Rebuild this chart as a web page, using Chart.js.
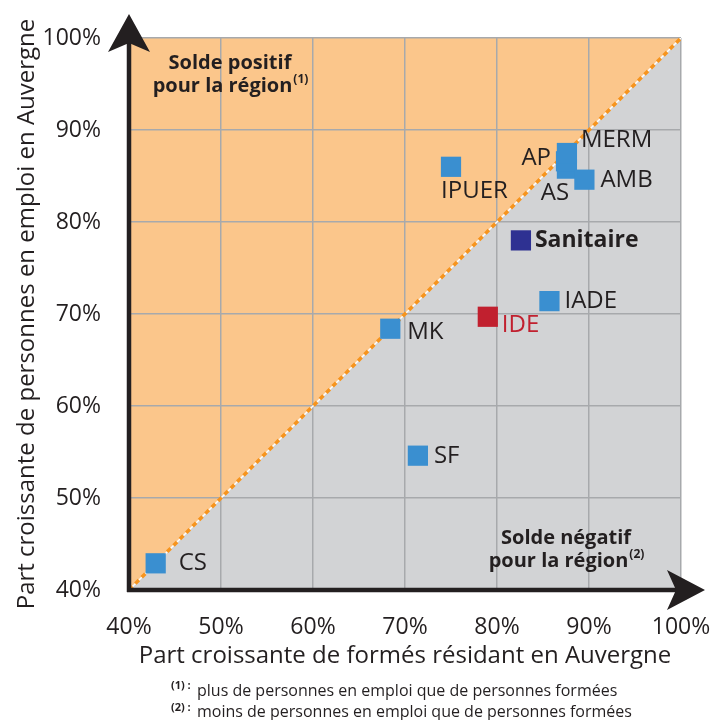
<!DOCTYPE html>
<html><head><meta charset="utf-8">
<script src="https://cdn.jsdelivr.net/npm/chart.js@4/dist/chart.umd.min.js"></script>
<style>html,body{margin:0;padding:0;background:#fff}#c{display:block}</style>
</head><body>
<canvas id="c" width="711" height="720"></canvas>
<script>
// ---- data ----
const categories = ['CS','MK','SF','IDE','IPUER','Sanitaire','IADE','AS','AP','MERM','AMB'];
const formesResidants = [42.9, 68.4, 71.4, 79.0, 75.0, 82.6, 85.7, 87.6, 87.5, 87.6, 89.5];
const emploiAuvergne  = [42.9, 68.4, 54.6, 69.7, 86.0, 78.0, 71.4, 85.8, 86.6, 87.5, 84.6];
const tickValues = [40, 50, 60, 70, 80, 90, 100];
const parityLine = [40, 100];

// ---- styles ----
const FONT = "'Open Sans', 'Noto Sans', sans-serif";
const TXT = '#231F20';
const BLUE = '#3A8FD0', NAVY = '#2E3192', RED = '#C1202F';
const ORANGE_BG = '#FBC68B', GREY_BG = '#D2D3D5', GRID = '#A7A9AC', DASH = '#F7941D';
const pointColor = c => c === 'Sanitaire' ? NAVY : (c === 'IDE' ? RED : BLUE);
const labelStyle = {
  CS:{dx:23,dy:0,align:'left'},
  MK:{dx:17,dy:3,align:'left'},
  SF:{dx:16,dy:0,align:'left'},
  IDE:{dx:14,dy:8,align:'left',color:RED},
  IPUER:{dx:-10,dy:24,align:'left'},
  Sanitaire:{dx:14,dy:0,align:'left',bold:true},
  IADE:{dx:15,dy:0,align:'left'},
  AS:{dx:-12,dy:25,align:'center'},
  AP:{dx:-15,dy:-3,align:'right'},
  MERM:{dx:14,dy:-13,align:'left'},
  AMB:{dx:16,dy:0,align:'left'}
};

const pts = categories.map((c, i) => ({x: formesResidants[i], y: emploiAuvergne[i]}));
const diag = parityLine.map(v => ({x: v, y: v}));

const labelsPlugin = {
  id: 'pointLabels',
  afterDatasetsDraw(chart) {
    const ctx = chart.ctx;
    const meta = chart.getDatasetMeta(0);
    ctx.save();
    ctx.textBaseline = 'middle';
    meta.data.forEach((el, i) => {
      const c = categories[i], s = labelStyle[c];
      ctx.font = s.bold ? 'bold 23px ' + FONT : '24px ' + FONT;
      ctx.fillStyle = s.color || TXT;
      ctx.textAlign = s.align;
      ctx.fillText(c, el.x + s.dx, el.y + s.dy);
    });
    ctx.restore();
  }
};

function supLine(ctx, main, sup, cx, cy, mainFont, supFont) {
  ctx.font = mainFont; const w1 = ctx.measureText(main).width;
  ctx.font = supFont; const w2 = ctx.measureText(sup).width;
  const x0 = cx - (w1 + w2) / 2;
  ctx.textAlign = 'left'; ctx.textBaseline = 'middle';
  ctx.font = mainFont; ctx.fillText(main, x0, cy);
  ctx.font = supFont; ctx.fillText(sup, x0 + w1 + 1, cy - 6);
}

const decorPlugin = {
  id: 'decor',
  afterDraw(chart) {
    const ctx = chart.ctx, a = chart.chartArea;
    ctx.save();
    ctx.fillStyle = TXT; ctx.strokeStyle = TXT;
    // axes with arrows
    ctx.lineWidth = 4.5;
    ctx.beginPath();
    ctx.moveTo(a.left, a.bottom + 2); ctx.lineTo(a.left, a.top - 4);
    ctx.moveTo(a.left - 2, a.bottom); ctx.lineTo(a.right + 4, a.bottom);
    ctx.stroke();
    ctx.beginPath();
    ctx.moveTo(a.left, a.top - 24); ctx.lineTo(a.left + 21, a.top + 14);
    ctx.lineTo(a.left, a.top + 5); ctx.lineTo(a.left - 21, a.top + 14); ctx.closePath(); ctx.fill();
    ctx.beginPath();
    ctx.moveTo(a.right + 24, a.bottom); ctx.lineTo(a.right - 14, a.bottom - 20);
    ctx.lineTo(a.right - 5, a.bottom); ctx.lineTo(a.right - 14, a.bottom + 20); ctx.closePath(); ctx.fill();
    // region labels
    const bf = 'bold 20px ' + FONT, sf = 'bold 12px ' + FONT;
    ctx.textAlign = 'center'; ctx.textBaseline = 'middle';
    ctx.font = bf;
    ctx.fillText('Solde positif', 230, 63);
    supLine(ctx, 'pour la région', '(1)', 230, 86, bf, sf);
    ctx.textAlign = 'center'; ctx.font = bf;
    ctx.fillText('Solde négatif', 566, 538);
    supLine(ctx, 'pour la région', '(2)', 566, 561, bf, sf);
    // footnotes
    ctx.textAlign = 'left'; ctx.textBaseline = 'middle';
    ctx.font = 'bold 11px ' + FONT;
    ctx.fillText('(1) :', 171, 686);
    ctx.fillText('(2) :', 171, 708);
    ctx.font = '16px ' + FONT;
    ctx.fillText('plus de personnes en emploi que de personnes formées', 197, 691);
    ctx.fillText('moins de personnes en emploi que de personnes formées', 197, 712);
    ctx.restore();
  }
};

new Chart(document.getElementById('c'), {
  type: 'scatter',
  data: {
    datasets: [
      { data: pts, pointStyle: 'rect', pointRadius: 14.3, pointHoverRadius: 14.3,
        backgroundColor: categories.map(pointColor), borderColor: categories.map(pointColor),
        borderWidth: 0, order: 0 },
      { type: 'line', data: diag, borderColor: DASH, borderWidth: 3.5, borderDash: [5, 4],
        pointRadius: 0, fill: false, order: 1 },
      { type: 'line', data: diag, borderColor: '#FFFFFF', borderWidth: 1.5,
        pointRadius: 0, fill: false, order: 2 },
      { type: 'line', data: diag, borderWidth: 0, borderColor: 'rgba(0,0,0,0)', pointRadius: 0,
        fill: 'start', backgroundColor: GREY_BG, order: 3 },
      { type: 'line', data: diag, borderWidth: 0, borderColor: 'rgba(0,0,0,0)', pointRadius: 0,
        fill: 'end', backgroundColor: ORANGE_BG, order: 4 }
    ]
  },
  options: {
    responsive: false, animation: false,
    layout: { padding: { left: 0, top: 38, right: 30, bottom: 0 } },
    plugins: { legend: { display: false }, tooltip: { enabled: false },
      filler: { drawTime: 'beforeDraw' } },
    scales: {
      x: {
        type: 'linear', min: 40, max: 100,
        afterFit: s => { s.height = 130; s.paddingLeft = 0; s.paddingRight = 0; },
        afterBuildTicks: s => { s.ticks = tickValues.map(v => ({value: v})); },
        grid: { color: GRID, lineWidth: 1.5, drawTicks: false },
        border: { display: false },
        ticks: { color: TXT, font: { family: FONT, size: 23 }, padding: 24, maxRotation: 0,
          autoSkip: false, callback: v => v + '%' },
        title: { display: true, text: 'Part croissante de formés résidant en Auvergne', color: TXT,
          font: { family: FONT, size: 24 }, padding: { top: 0, bottom: 49 } }
      },
      y: {
        type: 'linear', min: 40, max: 100,
        afterFit: s => { s.width = 129; s.paddingTop = 0; s.paddingBottom = 0; },
        afterBuildTicks: s => { s.ticks = tickValues.map(v => ({value: v})); },
        grid: { color: GRID, lineWidth: 1.5, drawTicks: false },
        border: { display: false },
        ticks: { color: TXT, font: { family: FONT, size: 23 }, padding: 28,
          callback: v => v + '%' },
        title: { display: true, text: 'Part croissante de personnes en emploi en Auvergne', color: TXT,
          font: { family: FONT, size: 24 }, padding: { top: 13, bottom: 0 } }
      }
    }
  },
  plugins: [labelsPlugin, decorPlugin]
});
</script>
</body></html>
